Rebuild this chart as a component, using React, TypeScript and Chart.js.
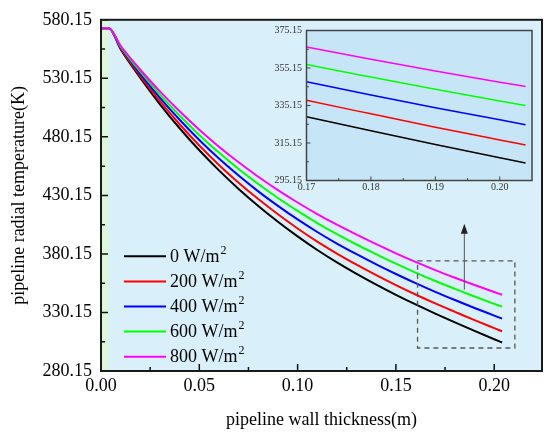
import { useEffect, useRef } from "react";
import { Chart, registerables } from "chart.js";
Chart.register(...registerables);

const xs = [0, 0.004, 0.01, 0.02, 0.03, 0.04, 0.05, 0.06, 0.07, 0.08, 0.09, 0.1, 0.11, 0.12, 0.13, 0.14, 0.15, 0.16, 0.17, 0.18, 0.19, 0.2, 0.204];
const t0 = [573, 573, 555, 530.5, 508, 487.5, 468.7, 451.5, 435.7, 421.1, 407.6, 395.1, 383.5, 372.9, 363.1, 353.9, 345.2, 337, 329.2, 321.7, 314.4, 307.3, 304.5];
const t200 = [573, 573, 555.7, 532.1, 510.6, 490.9, 472.8, 456.2, 441, 427, 414, 401.9, 390.7, 380.5, 371, 362, 353.5, 345.5, 337.9, 330.7, 323.6, 316.8, 314.1];
const t400 = [573, 573, 556.5, 534, 513.5, 494.8, 477.5, 461.6, 447.1, 433.6, 421.2, 409.6, 398.9, 389, 379.9, 371.2, 363, 355.2, 347.8, 340.8, 334, 327.5, 324.9];
const t600 = [573, 573, 557.3, 535.8, 516.3, 498.4, 481.8, 466.7, 452.7, 439.9, 427.9, 416.9, 406.5, 397.1, 388.2, 379.9, 371.8, 364.2, 357, 350.3, 343.8, 337.5, 335.1];
const t800 = [573, 573, 558, 537.5, 519, 502, 486.2, 471.7, 458.4, 446.1, 434.7, 424.1, 414.2, 405.1, 396.6, 388.5, 380.7, 373.3, 366.3, 359.8, 353.6, 347.6, 345.3];

const series = [t0, t200, t400, t600, t800];
const labels = ["0 W/m²", "200 W/m²", "400 W/m²", "600 W/m²", "800 W/m²"];
const colors = ["#000000", "#ff0000", "#0000ff", "#00ff00", "#ff00ff"];

const yTicks = [280.15, 330.15, 380.15, 430.15, 480.15, 530.15, 580.15];
const xTicks = [0, 0.05, 0.1, 0.15, 0.2];
const insetYTicks = [295.15, 315.15, 335.15, 355.15, 375.15];
const insetXTicks = [0.17, 0.18, 0.19, 0.2];

const flatEnd = 0.004;
const zoomBox = { x0: 0.161, x1: 0.2105, y0: 299.8, y1: 374.3 };
const arrow = { x: 0.1848, from: 349.7, to: 405.9 };

const SERIF = "'Liberation Serif', 'Times New Roman', serif";

function mids(arr: number[]) {
  const out: number[] = [];
  for (let i = 0; i < arr.length - 1; i++) out.push((arr[i] + arr[i + 1]) / 2);
  return out;
}

// inward tick marks on the bottom and left axes
function drawTicks(chart: any, major: number, minor: number, xMinor: number[], yMinor: number[], color: string, lw: number) {
  const { ctx, chartArea: a, scales: { x, y } } = chart;
  ctx.save();
  ctx.strokeStyle = color;
  ctx.lineWidth = lw;
  ctx.beginPath();
  const xt = x.ticks.map((t: any) => t.value);
  const yt = y.ticks.map((t: any) => t.value);
  xt.forEach((v: number) => { const px = x.getPixelForValue(v); ctx.moveTo(px, a.bottom); ctx.lineTo(px, a.bottom - major); });
  xMinor.forEach((v: number) => { const px = x.getPixelForValue(v); ctx.moveTo(px, a.bottom); ctx.lineTo(px, a.bottom - minor); });
  yt.forEach((v: number) => { const py = y.getPixelForValue(v); ctx.moveTo(a.left, py); ctx.lineTo(a.left + major, py); });
  yMinor.forEach((v: number) => { const py = y.getPixelForValue(v); ctx.moveTo(a.left, py); ctx.lineTo(a.left + minor, py); });
  ctx.stroke();
  ctx.restore();
}

function drawSupText(ctx: CanvasRenderingContext2D, text: string, x: number, y: number, size: number) {
  const sup = text.endsWith("²");
  const base = sup ? text.slice(0, -1) : text;
  ctx.font = `${size}px ${SERIF}`;
  ctx.textAlign = "left";
  ctx.textBaseline = "middle";
  ctx.fillText(base, x, y);
  if (sup) {
    const w = ctx.measureText(base).width;
    ctx.font = `${Math.round(size * 0.65)}px ${SERIF}`;
    ctx.fillText("2", w + x + 1, y - size * 0.38);
  }
}

const mainDecor = {
  id: "mainDecor",
  beforeDatasetsDraw(chart: any) {
    const { ctx, chartArea: a, scales: { x } } = chart;
    ctx.save();
    ctx.fillStyle = "#d9f0fb";
    ctx.fillRect(a.left, a.top, a.width, a.height);
    ctx.fillStyle = "#dcf7dc";
    ctx.fillRect(a.left, a.top, x.getPixelForValue(flatEnd) - a.left, a.height);
    ctx.restore();
  },
  afterDatasetsDraw(chart: any) {
    const { ctx, chartArea: a, scales: { x, y } } = chart;
    drawTicks(chart, 7, 4, mids(xTicks), mids(yTicks), "#111", 1.5);

    ctx.save();
    ctx.strokeStyle = "#1a1a1a";
    ctx.lineWidth = 2;
    ctx.strokeRect(a.left, a.top, a.width, a.height);

    // zoom region box
    ctx.strokeStyle = "#555";
    ctx.lineWidth = 1.3;
    ctx.setLineDash([5, 4]);
    const bx0 = x.getPixelForValue(zoomBox.x0), bx1 = x.getPixelForValue(zoomBox.x1);
    const by0 = y.getPixelForValue(zoomBox.y1), by1 = y.getPixelForValue(zoomBox.y0);
    ctx.strokeRect(bx0, by0, bx1 - bx0, by1 - by0);
    ctx.setLineDash([]);

    // arrow to inset
    const ax = x.getPixelForValue(arrow.x);
    const ay0 = y.getPixelForValue(arrow.from), ay1 = y.getPixelForValue(arrow.to);
    ctx.strokeStyle = "#555";
    ctx.lineWidth = 1;
    ctx.beginPath();
    ctx.moveTo(ax, ay0);
    ctx.lineTo(ax, ay1 + 8);
    ctx.stroke();
    ctx.fillStyle = "#222";
    ctx.beginPath();
    ctx.moveTo(ax, ay1);
    ctx.lineTo(ax - 3.5, ay1 + 10);
    ctx.lineTo(ax + 3.5, ay1 + 10);
    ctx.closePath();
    ctx.fill();

    // legend
    labels.forEach((lab, i) => {
      const ly = a.top + 236.5 + i * 25.1;
      ctx.strokeStyle = colors[i];
      ctx.lineWidth = 2;
      ctx.beginPath();
      ctx.moveTo(a.left + 23, ly);
      ctx.lineTo(a.left + 65, ly);
      ctx.stroke();
      ctx.fillStyle = "#000";
      drawSupText(ctx, lab, a.left + 69, ly + 1, 18);
    });

    // axis titles
    ctx.fillStyle = "#000";
    ctx.font = `18px ${SERIF}`;
    ctx.textAlign = "center";
    ctx.textBaseline = "middle";
    ctx.fillText("pipeline wall thickness(m)", (a.left + a.right) / 2, 420);
    ctx.translate(19.5, (a.top + a.bottom) / 2);
    ctx.rotate(-Math.PI / 2);
    ctx.fillText("pipeline radial temperature(K)", 0, 0);
    ctx.restore();
  },
};

const insetDecor = {
  id: "insetDecor",
  beforeDatasetsDraw(chart: any) {
    const { ctx, chartArea: a } = chart;
    ctx.save();
    ctx.fillStyle = "#c6e6f7";
    ctx.fillRect(a.left, a.top, a.width, a.height);
    ctx.restore();
  },
  afterDatasetsDraw(chart: any) {
    const { ctx, chartArea: a } = chart;
    drawTicks(chart, 4, 2.5, mids(insetXTicks), mids(insetYTicks), "#444", 1);
    ctx.save();
    ctx.strokeStyle = "#444";
    ctx.lineWidth = 1.5;
    ctx.strokeRect(a.left, a.top, a.width, a.height);
    ctx.restore();
  },
};

function makeDatasets(width: number) {
  return series.map((s, i) => ({
    label: labels[i],
    data: xs.map((x, j) => ({ x, y: s[j] })),
    borderColor: colors[i],
    borderWidth: width,
    pointRadius: 0,
    cubicInterpolationMode: "monotone" as const,
    order: series.length - 1 - i,
  }));
}

export default function App() {
  const mainRef = useRef<HTMLCanvasElement>(null);
  const insetRef = useRef<HTMLCanvasElement>(null);

  useEffect(() => {
    if (!mainRef.current || !insetRef.current) return;
    const tickFont = { family: SERIF, size: 18 };
    const main = new Chart(mainRef.current, {
      type: "line",
      data: { datasets: makeDatasets(2) as any },
      options: {
        animation: false,
        responsive: false,
        layout: { padding: { top: 15, right: 8, left: 0, bottom: 0 } },
        plugins: { legend: { display: false }, tooltip: { enabled: false } },
        scales: {
          x: {
            type: "linear", min: 0, max: 0.2243,
            afterBuildTicks: (s: any) => { s.ticks = xTicks.map((v) => ({ value: v })); },
            afterFit: (s: any) => { s.height = 65; },
            ticks: { callback: (v: any) => Number(v).toFixed(2), font: tickFont, color: "#000", padding: 4, maxRotation: 0, autoSkip: false },
            grid: { display: false, drawTicks: false },
            border: { display: false },
          },
          y: {
            type: "linear", min: 280.15, max: 580.15,
            afterBuildTicks: (s: any) => { s.ticks = yTicks.map((v) => ({ value: v })); },
            afterFit: (s: any) => { s.width = 101; },
            ticks: { callback: (v: any) => Number(v).toFixed(2), font: tickFont, color: "#000", padding: 9, autoSkip: false },
            grid: { display: false, drawTicks: false },
            border: { display: false },
          },
        },
      },
      plugins: [mainDecor],
    });

    const smallFont = { family: SERIF, size: 10 };
    const inset = new Chart(insetRef.current, {
      type: "line",
      data: { datasets: makeDatasets(1.5) as any },
      options: {
        animation: false,
        responsive: false,
        layout: { padding: { top: 6, right: 8, left: 0, bottom: 0 } },
        plugins: { legend: { display: false }, tooltip: { enabled: false } },
        scales: {
          x: {
            type: "linear", min: 0.17, max: 0.205,
            afterBuildTicks: (s: any) => { s.ticks = insetXTicks.map((v) => ({ value: v })); },
            afterFit: (s: any) => { s.height = 19.5; },
            ticks: { callback: (v: any) => Number(v).toFixed(2), font: smallFont, color: "#333", padding: 1, maxRotation: 0, autoSkip: false },
            grid: { display: false, drawTicks: false },
            border: { display: false },
          },
          y: {
            type: "linear", min: 295.15, max: 375.15,
            afterBuildTicks: (s: any) => { s.ticks = insetYTicks.map((v) => ({ value: v })); },
            afterFit: (s: any) => { s.width = 44.5; },
            ticks: { callback: (v: any) => Number(v).toFixed(2), font: smallFont, color: "#333", padding: 4.5, autoSkip: false },
            grid: { display: false, drawTicks: false },
            border: { display: false },
          },
        },
      },
      plugins: [insetDecor],
    });

    return () => {
      main.destroy();
      inset.destroy();
    };
  }, []);

  return (
    <div style={{ position: "fixed", left: 0, top: 0, width: 550, height: 436, background: "#fff" }}>
      <canvas ref={mainRef} width={550} height={436} style={{ position: "absolute", left: 0, top: 0, width: 550, height: 436 }} />
      <canvas ref={insetRef} width={278} height={180} style={{ position: "absolute", left: 262, top: 20, width: 278, height: 180 }} />
    </div>
  );
}
